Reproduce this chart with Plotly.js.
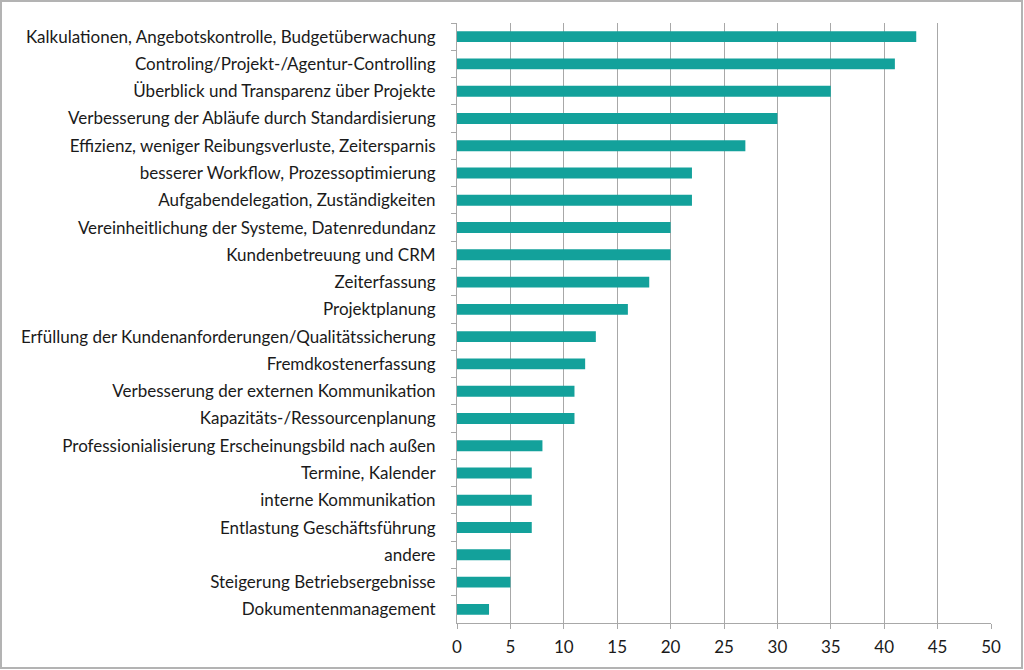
<!DOCTYPE html>
<html><head><meta charset="utf-8">
<script src="https://cdn.plot.ly/plotly-3.0.1.min.js"></script>
<style>html,body{margin:0;padding:0;background:#fff;}#c{width:1024px;height:670px;position:relative;}
#frame{position:absolute;left:0;top:0;width:1019px;height:665px;border:2px solid #b3b3b3;pointer-events:none;}</style>
</head><body><div style="position:relative"><div id="c"></div><div id="frame"></div></div>
<script>
const categories = [
 "Kalkulationen, Angebotskontrolle, Budgetüberwachung",
 "Controling/Projekt-/Agentur-Controlling",
 "Überblick und Transparenz über Projekte",
 "Verbesserung der Abläufe durch Standardisierung",
 "Effizienz, weniger Reibungsverluste, Zeitersparnis",
 "besserer Workflow, Prozessoptimierung",
 "Aufgabendelegation, Zuständigkeiten",
 "Vereinheitlichung der Systeme, Datenredundanz",
 "Kundenbetreuung und CRM",
 "Zeiterfassung",
 "Projektplanung",
 "Erfüllung der Kundenanforderungen/Qualitätssicherung",
 "Fremdkostenerfassung",
 "Verbesserung der externen Kommunikation",
 "Kapazitäts-/Ressourcenplanung",
 "Professionialisierung Erscheinungsbild nach außen",
 "Termine, Kalender",
 "interne Kommunikation",
 "Entlastung Geschäftsführung",
 "andere",
 "Steigerung Betriebsergebnisse",
 "Dokumentenmanagement"
];
const values = [43, 41, 35, 30, 27, 22, 22, 20, 20, 18, 16, 13, 12, 11, 11, 8, 7, 7, 7, 5, 5, 3];
const xTicks = [0,5,10,15,20,25,30,35,40,45,50];

Plotly.newPlot('c', [{
  type: 'bar', orientation: 'h', x: values, y: categories,
  marker: {color: '#13a19b'}, hoverinfo: 'x+y'
}], {
  width: 1024, height: 670,
  margin: {l: 457, r: 33, t: 23, b: 47},
  paper_bgcolor: '#fff', plot_bgcolor: '#fff',
  bargap: 0.6, showlegend: false,
  font: {family: 'Lato, "Open Sans", sans-serif', size: 17, color: '#1a1a1a'},
  xaxis: {range: [0, 50], tickvals: xTicks, ticktext: xTicks.map(String),
    showgrid: true, gridcolor: '#a8a8a8', gridwidth: 1,
    showline: true, linecolor: '#a8a8a8', linewidth: 1,
    ticks: 'outside', ticklen: 5, tickcolor: '#a8a8a8', zeroline: false,
    ticklabelstandoff: 4, tickfont: {size: 17}},
  yaxis: {autorange: 'reversed', type: 'category', showline: true, linecolor: '#a8a8a8', linewidth: 1,
    ticks: 'outside', ticklen: 5, tickcolor: '#a8a8a8', tickson: 'boundaries', showgrid: false,
    ticklabelstandoff: 17, tickfont: {size: 17}}
}, {displayModeBar: false, staticPlot: true});
</script></body></html>
